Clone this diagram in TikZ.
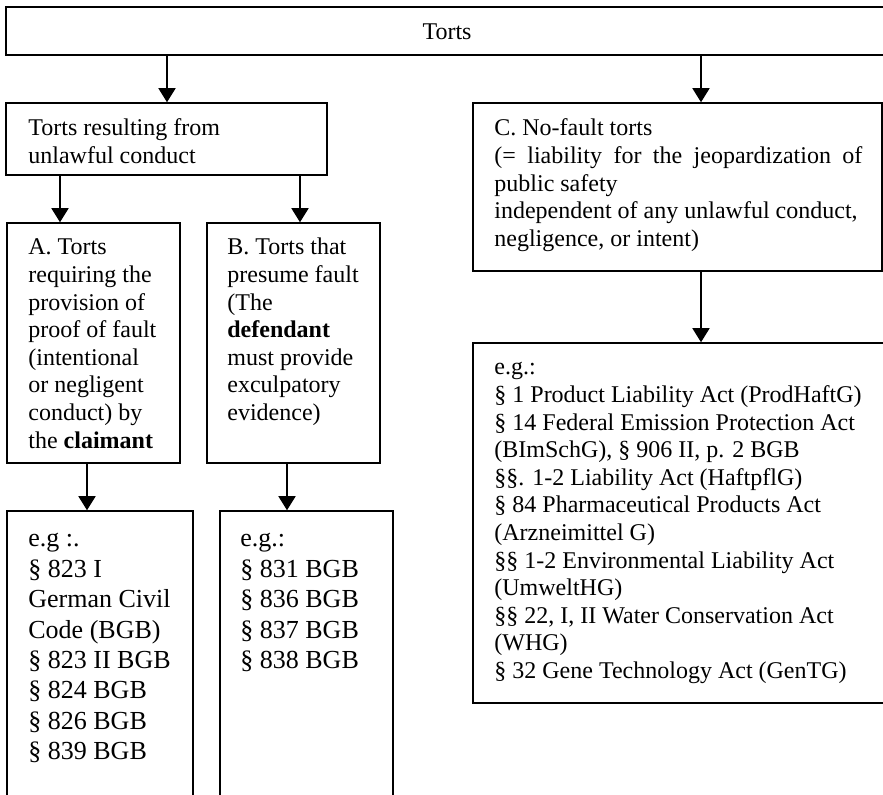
\documentclass[tikz,border=0pt]{standalone}
\usepackage{fontspec}
\setmainfont{Liberation Serif}
\usetikzlibrary{arrows.meta,fit}
\newcommand{\ml}[1]{\begin{tabular}[t]{@{}l@{}}#1\end{tabular}}
\begin{document}
\begin{tikzpicture}[x=0.5pt,y=-0.5pt,
  box/.style={draw, line width=0.75pt, inner sep=0pt},
  arr/.style={line width=0.75pt, -{Triangle[length=7pt,width=8.5pt]}},
  txt/.style={anchor=base west, inner sep=0pt, font=\fontsize{12}{13.8}\selectfont},
  txtb/.style={anchor=base west, inner sep=0pt, font=\fontsize{13}{15.2}\selectfont}]
\useasboundingbox (0,0) rectangle (883,795);
\clip (0,0) rectangle (883,795);
% boxes
\node[box, fit={(6,7) (888,55)}] (torts) {};
\node[box, fit={(6,103) (327,175)}] (res) {};
\node[box, fit={(7,223) (180,463)}] (A) {};
\node[box, fit={(207,223) (380,463)}] (B) {};
\node[box, fit={(7,511) (193,820)}] (egA) {};
\node[box, fit={(220,511) (393,820)}] (egB) {};
\node[box, fit={(473,103) (882,271)}] (C) {};
\node[box, fit={(473,343) (900,703)}] (egC) {};
% texts
\node[anchor=base, inner sep=0pt, font=\fontsize{12}{13.8}\selectfont] (torts-t) at (447,40) {Torts};
\node[txt] (res-t) at (28,136) {\ml{Torts resulting from\\unlawful conduct}};
\node[txt] (A-t) at (28,255) {\ml{A. Torts\\requiring the\\provision of\\proof of fault\\(intentional\\or negligent\\conduct) by\\the \textbf{claimant}}};
\node[txt] (B-t) at (227,255) {\ml{B. Torts that\\presume fault\\(The\\\textbf{defendant}\\must provide\\exculpatory\\evidence)}};
\node[txtb] (egA-t) at (28,547) {\ml{e.g :.\\\S\ 823 I\\German Civil\\Code (BGB)\\\S\ 823 II BGB\\\S\ 824 BGB\\\S\ 826 BGB\\\S\ 839 BGB}};
\node[txtb] (egB-t) at (240,547) {\ml{e.g.:\\\S\ 831 BGB\\\S\ 836 BGB\\\S\ 837 BGB\\\S\ 838 BGB}};
\node[txt] (C-t) at (494,136) {\ml{C. No-fault torts\\\makebox[184pt][s]{(= liability for the jeopardization of}\\public safety\\independent of any unlawful conduct,\\negligence, or intent)}};
\node[txt] (egC-t) at (494,375) {\ml{e.g.:\\\S\ 1 Product Liability Act (ProdHaftG)\\\S\ 14 Federal Emission Protection Act\\(BImSchG), \S\ 906 II, p. 2 BGB\\\S\S. 1-2 Liability Act (HaftpflG)\\\S\ 84 Pharmaceutical Products Act\\(Arzneimittel G)\\\S\S\ 1-2 Environmental Liability Act\\(UmweltHG)\\\S\S\ 22, I, II Water Conservation Act\\(WHG)\\\S\ 32 Gene Technology Act (GenTG)}};
% arrow positions
\coordinate (xa) at (167,0);
\coordinate (xb) at (701,0);
\coordinate (xc) at (60,0);
\coordinate (xd) at (300,0);
\coordinate (xe) at (87,0);
\coordinate (xf) at (287,0);
% connectors
\draw[arr] (torts.south -| xa) -- (res.north -| xa);
\draw[arr] (torts.south -| xb) -- (C.north -| xb);
\draw[arr] (res.south -| xc) -- (A.north -| xc);
\draw[arr] (res.south -| xd) -- (B.north -| xd);
\draw[arr] (A.south -| xe) -- (egA.north -| xe);
\draw[arr] (B.south -| xf) -- (egB.north -| xf);
\draw[arr] (C.south -| xb) -- (egC.north -| xb);
\end{tikzpicture}
\end{document}
